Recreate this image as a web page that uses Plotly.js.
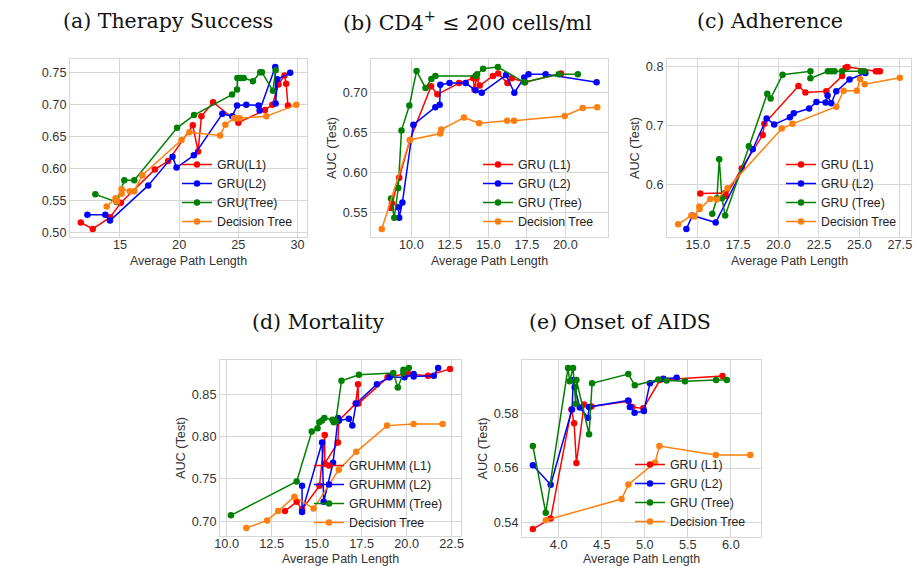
<!DOCTYPE html>
<html>
<head>
<meta charset="utf-8">
<script src="https://cdn.plot.ly/plotly-3.0.1.min.js"></script>
<style>html,body{margin:0;padding:0;background:#fff;}#chart{width:918px;height:566px;}</style>
</head>
<body>
<div id="chart"></div>
<script>
// ---------- (a) Therapy Success ----------
const aL1x = [11.69, 12.70, 14.16, 15.08, 17.95, 19.07, 21.15, 21.60, 21.88, 22.87, 25.00, 27.25, 27.87, 28.40, 28.90, 29.04, 29.19];
const aL1y = [0.516, 0.506, 0.524, 0.547, 0.599, 0.612, 0.668, 0.627, 0.682, 0.704, 0.672, 0.692, 0.700, 0.732, 0.746, 0.733, 0.699];
const aL2x = [12.25, 13.76, 14.16, 17.39, 19.44, 19.78, 21.24, 23.65, 24.49, 24.89, 25.67, 26.71, 26.80, 28.12, 28.15, 28.29, 29.38];
const aL2y = [0.528, 0.528, 0.519, 0.574, 0.619, 0.602, 0.621, 0.686, 0.682, 0.699, 0.700, 0.699, 0.691, 0.759, 0.702, 0.740, 0.750];
const aTrx = [12.92, 14.72, 15.37, 16.21, 19.83, 21.26, 24.47, 24.89, 24.92, 25.20, 25.45, 26.24, 26.85, 26.99, 27.92, 28.15];
const aTry = [0.560, 0.548, 0.582, 0.582, 0.664, 0.684, 0.716, 0.724, 0.742, 0.742, 0.742, 0.737, 0.751, 0.751, 0.722, 0.754];
const aDTx = [13.88, 14.63, 14.75, 15.14, 15.14, 15.84, 16.21, 16.88, 20.20, 20.87, 23.46, 23.90, 24.64, 24.89, 25.11, 27.36, 29.89];
const aDTy = [0.541, 0.554, 0.549, 0.561, 0.568, 0.565, 0.565, 0.590, 0.645, 0.657, 0.652, 0.669, 0.679, 0.679, 0.679, 0.682, 0.700];

// ---------- (b) CD4+ <= 200 ----------
const bL1x = [8.68, 8.74, 9.21, 9.91, 11.28, 11.69, 13.10, 14.02, 14.10, 14.23, 14.44, 15.30, 15.64, 16.24, 16.52, 17.39, 19.72];
const bL1y = [0.556, 0.562, 0.594, 0.641, 0.708, 0.698, 0.712, 0.718, 0.704, 0.718, 0.709, 0.721, 0.724, 0.712, 0.718, 0.713, 0.724];
const bL2x = [9.15, 9.21, 9.42, 10.13, 11.56, 11.84, 11.88, 12.48, 13.53, 14.17, 14.57, 16.15, 16.69, 17.33, 17.61, 18.72, 22.03];
const bL2y = [0.557, 0.544, 0.563, 0.660, 0.682, 0.685, 0.710, 0.712, 0.712, 0.703, 0.700, 0.722, 0.700, 0.719, 0.723, 0.723, 0.713];
const bTrx = [8.68, 8.89, 9.15, 9.36, 9.87, 10.34, 10.92, 11.30, 11.56, 14.17, 14.27, 14.66, 15.62, 17.33, 19.57, 20.81];
const bTry = [0.568, 0.544, 0.581, 0.653, 0.684, 0.727, 0.706, 0.717, 0.721, 0.721, 0.723, 0.730, 0.732, 0.713, 0.723, 0.723];
const bDTx = [8.08, 9.91, 11.88, 11.94, 13.42, 14.40, 16.22, 16.67, 19.96, 21.13, 22.07];
const bDTy = [0.530, 0.641, 0.649, 0.654, 0.669, 0.662, 0.665, 0.665, 0.671, 0.681, 0.682];

// ---------- (c) Adherence ----------
const cL1x = [15.16, 16.70, 16.74, 17.73, 19.02, 19.12, 21.23, 21.66, 22.95, 23.93, 24.14, 24.26, 26.02, 26.15, 26.27];
const cL1y = [0.585, 0.586, 0.581, 0.628, 0.684, 0.703, 0.767, 0.756, 0.758, 0.784, 0.798, 0.799, 0.792, 0.792, 0.792];
const cL2x = [14.30, 14.67, 16.11, 18.40, 19.26, 19.73, 20.70, 20.94, 21.89, 22.34, 22.91, 23.03, 23.26, 23.57, 24.39, 25.37];
const cL2y = [0.525, 0.548, 0.536, 0.660, 0.712, 0.702, 0.714, 0.721, 0.729, 0.740, 0.739, 0.751, 0.738, 0.758, 0.778, 0.789];
const cTrx = [15.90, 16.19, 16.33, 16.50, 16.70, 18.16, 19.30, 19.51, 20.25, 21.97, 21.97, 23.05, 23.26, 23.46, 23.93, 25.10, 25.31];
const cTry = [0.551, 0.577, 0.643, 0.577, 0.548, 0.665, 0.754, 0.746, 0.786, 0.792, 0.780, 0.792, 0.792, 0.792, 0.792, 0.792, 0.792];
const cDTx = [13.79, 14.61, 14.80, 15.10, 15.12, 15.78, 16.19, 16.84, 20.20, 20.86, 23.57, 24.02, 24.84, 25.04, 25.33, 27.50];
const cDTy = [0.533, 0.548, 0.546, 0.563, 0.559, 0.576, 0.575, 0.594, 0.695, 0.703, 0.732, 0.759, 0.759, 0.779, 0.770, 0.781];

// ---------- (d) Mortality ----------
const dL1x = [13.24, 13.89, 14.19, 15.16, 15.45, 15.45, 16.18, 16.23, 17.17, 17.30, 17.32, 18.94, 19.88, 20.10, 21.19, 22.41];
const dL1y = [0.712, 0.723, 0.714, 0.742, 0.802, 0.768, 0.793, 0.819, 0.839, 0.862, 0.839, 0.870, 0.874, 0.874, 0.872, 0.880];
const dL2x = [14.19, 14.19, 15.30, 15.39, 15.91, 16.19, 16.23, 16.79, 16.98, 17.19, 18.35, 19.06, 19.88, 20.39, 20.39, 21.51, 21.75];
const dL2y = [0.742, 0.711, 0.793, 0.723, 0.769, 0.822, 0.819, 0.821, 0.813, 0.839, 0.862, 0.870, 0.870, 0.874, 0.871, 0.872, 0.881];
const dTrx = [10.24, 13.89, 14.73, 15.05, 15.15, 15.30, 15.43, 15.88, 15.95, 16.06, 16.38, 17.35, 19.26, 19.51, 19.82, 19.82, 20.12];
const dTry = [0.707, 0.747, 0.806, 0.810, 0.817, 0.819, 0.822, 0.820, 0.817, 0.818, 0.866, 0.873, 0.875, 0.858, 0.875, 0.879, 0.881];
const dDTx = [11.09, 12.25, 12.86, 13.76, 14.83, 16.23, 17.20, 18.91, 20.39, 22.00];
const dDTy = [0.692, 0.701, 0.712, 0.729, 0.715, 0.761, 0.782, 0.813, 0.815, 0.815];

// ---------- (e) Onset of AIDS ----------
const eL1x = [3.70, 3.907, 4.148, 4.179, 4.206, 4.295, 4.381, 4.812, 4.854, 4.983, 5.177, 5.903];
const eL1y = [0.5378, 0.5416, 0.5813, 0.5763, 0.5618, 0.5831, 0.5824, 0.5843, 0.5822, 0.5817, 0.5920, 0.5935];
const eL2x = [3.70, 3.907, 4.155, 4.171, 4.186, 4.245, 4.342, 4.353, 4.808, 4.827, 4.882, 4.99, 5.06, 5.216, 5.37];
const eL2y = [0.561, 0.5539, 0.5813, 0.592, 0.5894, 0.582, 0.5783, 0.5822, 0.5846, 0.5822, 0.5801, 0.5807, 0.5908, 0.5925, 0.5928];
const eTrx = [3.70, 3.85, 4.109, 4.128, 4.167, 4.198, 4.206, 4.353, 4.388, 4.808, 4.885, 5.157, 5.254, 5.468, 5.829, 5.953];
const eTry = [0.568, 0.5437, 0.5964, 0.5916, 0.5964, 0.5834, 0.592, 0.5723, 0.5908, 0.5942, 0.5901, 0.5922, 0.5918, 0.5916, 0.5920, 0.5920];
const eDTx = [3.85, 4.73, 4.81, 5.12, 5.17, 5.825, 6.225];
const eDTy = [0.541, 0.5487, 0.554, 0.562, 0.568, 0.5647, 0.5647];

const namesGRUa = ["GRU(L1)", "GRU(L2)", "GRU(Tree)", "Decision Tree"];
const namesGRU = ["GRU (L1)", "GRU (L2)", "GRU (Tree)", "Decision Tree"];
const namesHMM = ["GRUHMM (L1)", "GRUHMM (L2)", "GRUHMM (Tree)", "Decision Tree"];
const panelTitles = ["(a) Therapy Success", "(b) CD4<sup>+</sup> ≤ 200 cells/ml", "(c) Adherence", "(d) Mortality", "(e) Onset of AIDS"];
const xLabel = "Average Path Length";
const yLabel = "AUC (Test)";

const colors = ["#ff0000", "#0000ff", "#008000", "#ff7f0e"];
const W = 918, H = 566;
const GRID = "#d6d6d6";
const TXT = "#333333";
const SANS = "Liberation Sans, Arial, sans-serif";

// panel geometry (pixels): [left, right, top, bottom]
const boxes = [
  [70, 307, 59, 237],
  [371, 608, 59, 237],
  [667, 911, 59, 237],
  [220, 461, 360, 536],
  [522, 761, 360, 537]
];

const panels = [
  {series: [[aL1x, aL1y], [aL2x, aL2y], [aTrx, aTry], [aDTx, aDTy]], names: namesGRUa,
   xr: [10.78, 30.80], yr: [0.4933, 0.7717], xt: [15, 20, 25, 30], xf: "d", yt: [0.50, 0.55, 0.60, 0.65, 0.70, 0.75], yf: ".2f", ytitle: false},
  {series: [[bL1x, bL1y], [bL2x, bL2y], [bTrx, bTry], [bDTx, bDTy]], names: namesGRU,
   xr: [7.38, 22.77], yr: [0.5199, 0.7421], xt: [10, 12.5, 15, 17.5, 20], xf: ".1f", yt: [0.55, 0.60, 0.65, 0.70], yf: ".2f", ytitle: true},
  {series: [[cL1x, cL1y], [cL2x, cL2y], [cTrx, cTry], [cDTx, cDTy]], names: namesGRU,
   xr: [13.10, 28.19], yr: [0.5115, 0.8127], xt: [15, 17.5, 20, 22.5, 25, 27.5], xf: ".1f", yt: [0.6, 0.7, 0.8], yf: ".1f", ytitle: true},
  {series: [[dL1x, dL1y], [dL2x, dL2y], [dTrx, dTry], [dDTx, dDTy]], names: namesHMM,
   xr: [9.63, 23.02], yr: [0.6826, 0.8905], xt: [10, 12.5, 15, 17.5, 20, 22.5], xf: ".1f", yt: [0.70, 0.75, 0.80, 0.85], yf: ".2f", ytitle: true},
  {series: [[eL1x, eL1y], [eL2x, eL2y], [eTrx, eTry], [eDTx, eDTy]], names: namesGRU,
   xr: [3.574, 6.35], yr: [0.5349, 0.5993], xt: [4.0, 4.5, 5.0, 5.5, 6.0], xf: ".1f", yt: [0.54, 0.56, 0.58], yf: ".2f", ytitle: true}
];

// legend: left pixel and top pixel
const legendPos = [[177, 150], [478, 150], [781, 150], [309, 451], [630, 450]];
const titlePos = [[168, 21], [468, 21], [770, 21], [318, 322], [620, 322]];
const xTitleY = [261, 261, 261, 559, 559];

const data = [];
const layout = {
  width: W, height: H,
  margin: {l: 0, r: 0, t: 0, b: 0},
  paper_bgcolor: "#ffffff", plot_bgcolor: "#ffffff",
  showlegend: true,
  annotations: []
};

panels.forEach((p, i) => {
  const k = i + 1;
  const sx = k === 1 ? "" : String(k);
  const b = boxes[i];
  const legId = k === 1 ? "legend" : "legend" + k;
  p.series.forEach((s, j) => {
    data.push({
      type: "scatter", mode: "lines+markers",
      x: s[0], y: s[1], name: p.names[j],
      xaxis: "x" + sx, yaxis: "y" + sx, legend: legId,
      line: {color: colors[j], width: 1.5},
      marker: {color: colors[j], size: 6.5}
    });
  });
  layout["xaxis" + sx] = {
    domain: [b[0] / W, b[1] / W], anchor: "y" + sx, range: p.xr,
    tickvals: p.xt, tickformat: p.xf, ticks: "", ticklabelstandoff: -4,
    showgrid: true, gridcolor: GRID, gridwidth: 1, zeroline: false,
    showline: true, linecolor: GRID, linewidth: 1, mirror: true,
    tickfont: {family: SANS, size: 12.7, color: TXT}
  };
  const ya = {
    domain: [1 - b[3] / H, 1 - b[2] / H], anchor: "x" + sx, range: p.yr,
    tickvals: p.yt, tickformat: p.yf, ticks: "",
    showgrid: true, gridcolor: GRID, gridwidth: 1, zeroline: false,
    showline: true, linecolor: GRID, linewidth: 1, mirror: true,
    tickfont: {family: SANS, size: 12.7, color: TXT}
  };
  if (p.ytitle) ya.title = {text: yLabel, font: {family: SANS, size: 12.7, color: TXT}, standoff: 3};
  layout["yaxis" + sx] = ya;
  layout[legId] = {
    x: legendPos[i][0] / W, y: 1 - legendPos[i][1] / H,
    xanchor: "left", yanchor: "top", xref: "paper", yref: "paper",
    bgcolor: "rgba(0,0,0,0)", borderwidth: 0,
    font: {family: SANS, size: 12.3, color: "#222222"},
    itemwidth: 30, tracegroupgap: 0
  };
  layout.annotations.push({
    text: panelTitles[i], xref: "paper", yref: "paper",
    x: titlePos[i][0] / W, y: 1 - titlePos[i][1] / H,
    xanchor: "center", yanchor: "middle", showarrow: false,
    font: {family: "DejaVu Serif, serif", size: 20.5, color: "#111111"}
  });
  layout.annotations.push({
    text: xLabel, xref: "paper", yref: "paper",
    x: ((b[0] + b[1]) / 2) / W, y: 1 - xTitleY[i] / H,
    xanchor: "center", yanchor: "middle", showarrow: false,
    font: {family: SANS, size: 12.5, color: TXT}
  });
});

Plotly.newPlot("chart", data, layout, {displayModeBar: false, staticPlot: true});
</script>
</body>
</html>
